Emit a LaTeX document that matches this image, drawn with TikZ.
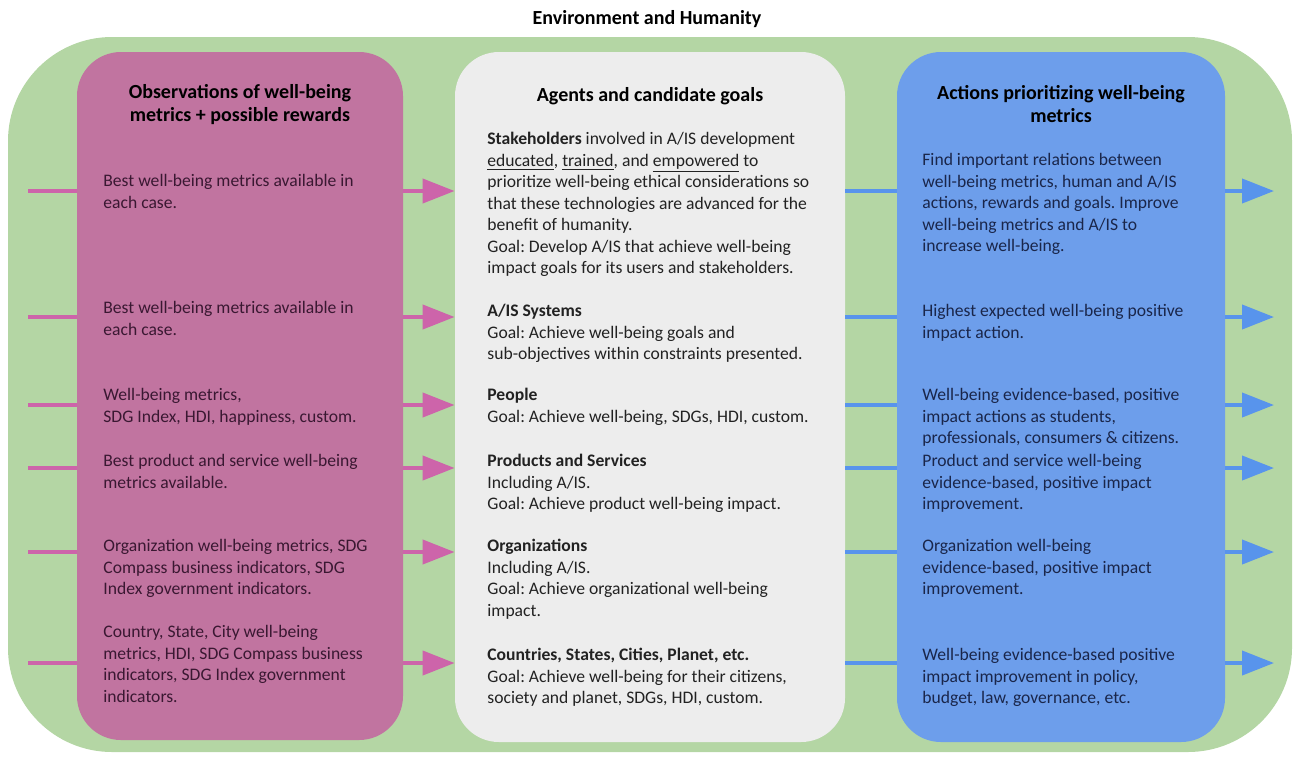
\documentclass[tikz,border=0pt]{standalone}
\usepackage{fontspec}
\setmainfont{Carlito}
\frenchspacing
\usetikzlibrary{arrows.meta}

\definecolor{envgreen}{RGB}{180,214,164}
\definecolor{obsfill}{RGB}{193,116,160}
\definecolor{agtfill}{RGB}{237,237,237}
\definecolor{actfill}{RGB}{109,158,235}
\definecolor{obspink}{RGB}{205,100,170}
\definecolor{actblue}{RGB}{88,148,236}
\definecolor{obstext}{RGB}{58,24,50}
\definecolor{acttext}{RGB}{26,38,74}
\definecolor{agttext}{RGB}{34,34,34}

\tikzset{
  colbox/.style={draw=none, rounded corners=22pt, minimum height=344pt, inner sep=0pt},
  bodytxt/.style={anchor=north west, inner sep=0pt, align=left, font=\fontsize{8.8}{10.75}\selectfont\frenchspacing},
  headtxt/.style={anchor=north, inner sep=0pt, align=center, font=\fontsize{10}{11.5}\selectfont\bfseries},
  obsline/.style={draw=obspink, line width=2pt},
  obsarrow/.style={obsline, -{Triangle[length=16pt,width=12pt]}},
  actline/.style={draw=actblue, line width=2pt},
  actarrow/.style={actline, -{Triangle[length=16pt,width=12pt]}}
}

\begin{document}
\begin{tikzpicture}[x=0.5pt, y=-0.5pt]
\useasboundingbox (0,0) rectangle (1294,756);

\node[font=\fontsize{10}{12}\selectfont\bfseries, inner sep=0pt] (title) at (647,19) {Environment and Humanity};
\node[draw=none, fill=envgreen, rounded corners=52pt, minimum width=642pt, minimum height=357.5pt] (env) at (650,394.5) {};

% the three columns
\node[colbox, fill=obsfill, minimum width=163pt] (obs) at (240,396) {};
\node[colbox, fill=agtfill, minimum width=195pt, minimum height=345pt] (agt) at (650,397) {};
\node[colbox, fill=actfill, minimum width=164pt, minimum height=345pt] (act) at (1061,397) {};

\node[headtxt, text=black] (obshead) at (240,84) {Observations of well-being\\metrics + possible rewards};
\node[headtxt, text=black] (agthead) at (650,87) {Agents and candidate goals};
\node[headtxt, text=black] (acthead) at (1061,85) {Actions prioritizing well-being\\metrics};

% row heights
\coordinate (r1) at (0,191);
\coordinate (r2) at (0,317);
\coordinate (r3) at (0,405);
\coordinate (r4) at (0,468);
\coordinate (r5) at (0,552);
\coordinate (r6) at (0,663);
\coordinate (src) at (28,0);
\coordinate (snk) at (1274,0);

% observations
\node[bodytxt, text=obstext] (obs1) at (103,174) {Best well-being metrics available in\\each case.};
\node[bodytxt, text=obstext] (obs2) at (103,301) {Best well-being metrics available in\\each case.};
\node[bodytxt, text=obstext] (obs3) at (103,388) {Well-being metrics,\\SDG Index, HDI, happiness, custom.};
\node[bodytxt, text=obstext] (obs4) at (103,454) {Best product and service well-being\\metrics available.};
\node[bodytxt, text=obstext] (obs5) at (103,539) {Organization well-being metrics, SDG\\Compass business indicators, SDG\\Index government indicators.};
\node[bodytxt, text=obstext] (obs6) at (103,625) {Country, State, City well-being\\metrics, HDI, SDG Compass business\\indicators, SDG Index government\\indicators.};

% agents
\node[bodytxt, text=agttext] (agt1) at (487,132) {\textbf{Stakeholders} involved in A/IS development\\\underline{educated}, \underline{trained}, and \underline{empowered} to\\prioritize well-being ethical considerations so\\that these technologies are advanced for the\\benefit of humanity.\\Goal: Develop A/IS that achieve well-being\\impact goals for its users and stakeholders.};
\node[bodytxt, text=agttext] (agt2) at (487,304) {\textbf{A/IS Systems}\\Goal: Achieve well-being goals and\\sub-objectives within constraints presented.};
\node[bodytxt, text=agttext] (agt3) at (487,388) {\textbf{People}\\Goal: Achieve well-being, SDGs, HDI, custom.};
\node[bodytxt, text=agttext] (agt4) at (487,454) {\textbf{Products and Services}\\Including A/IS.\\Goal: Achieve product well-being impact.};
\node[bodytxt, text=agttext] (agt5) at (487,539) {\textbf{Organizations}\\Including A/IS.\\Goal: Achieve organizational well-being\\impact.};
\node[bodytxt, text=agttext] (agt6) at (487,648) {\textbf{Countries, States, Cities, Planet, etc.}\\Goal: Achieve well-being for their citizens,\\society and planet, SDGs, HDI, custom.};

% actions
\node[bodytxt, text=acttext] (act1) at (922,153) {Find important relations between\\well-being metrics, human and A/IS\\actions, rewards and goals. Improve\\well-being metrics and A/IS to\\increase well-being.};
\node[bodytxt, text=acttext] (act2) at (922,304) {Highest expected well-being positive\\impact action.};
\node[bodytxt, text=acttext] (act3) at (922,388) {Well-being evidence-based, positive\\impact actions as students,\\professionals, consumers \& citizens.};
\node[bodytxt, text=acttext] (act4) at (922,454) {Product and service well-being\\evidence-based, positive impact\\improvement.};
\node[bodytxt, text=acttext] (act5) at (922,539) {Organization well-being\\evidence-based, positive impact\\improvement.};
\node[bodytxt, text=acttext] (act6) at (922,648) {Well-being evidence-based positive\\impact improvement in policy,\\budget, law, governance, etc.};

% connectors
\draw[obsline] (src |- r1) -- (obs.west |- r1);
\draw[obsline] (src |- r2) -- (obs.west |- r2);
\draw[obsline] (src |- r3) -- (obs.west |- r3);
\draw[obsline] (src |- r4) -- (obs.west |- r4);
\draw[obsline] (src |- r5) -- (obs.west |- r5);
\draw[obsline] (src |- r6) -- (obs.west |- r6);

\draw[obsarrow] (obs.east |- r1) -- (agt.west |- r1);
\draw[obsarrow] (obs.east |- r2) -- (agt.west |- r2);
\draw[obsarrow] (obs.east |- r3) -- (agt.west |- r3);
\draw[obsarrow] (obs.east |- r4) -- (agt.west |- r4);
\draw[obsarrow] (obs.east |- r5) -- (agt.west |- r5);
\draw[obsarrow] (obs.east |- r6) -- (agt.west |- r6);

\draw[actline] (agt.east |- r1) -- (act.west |- r1);
\draw[actline] (agt.east |- r2) -- (act.west |- r2);
\draw[actline] (agt.east |- r3) -- (act.west |- r3);
\draw[actline] (agt.east |- r4) -- (act.west |- r4);
\draw[actline] (agt.east |- r5) -- (act.west |- r5);
\draw[actline] (agt.east |- r6) -- (act.west |- r6);

\draw[actarrow] (act.east |- r1) -- (snk |- r1);
\draw[actarrow] (act.east |- r2) -- (snk |- r2);
\draw[actarrow] (act.east |- r3) -- (snk |- r3);
\draw[actarrow] (act.east |- r4) -- (snk |- r4);
\draw[actarrow] (act.east |- r5) -- (snk |- r5);
\draw[actarrow] (act.east |- r6) -- (snk |- r6);

\end{tikzpicture}
\end{document}
